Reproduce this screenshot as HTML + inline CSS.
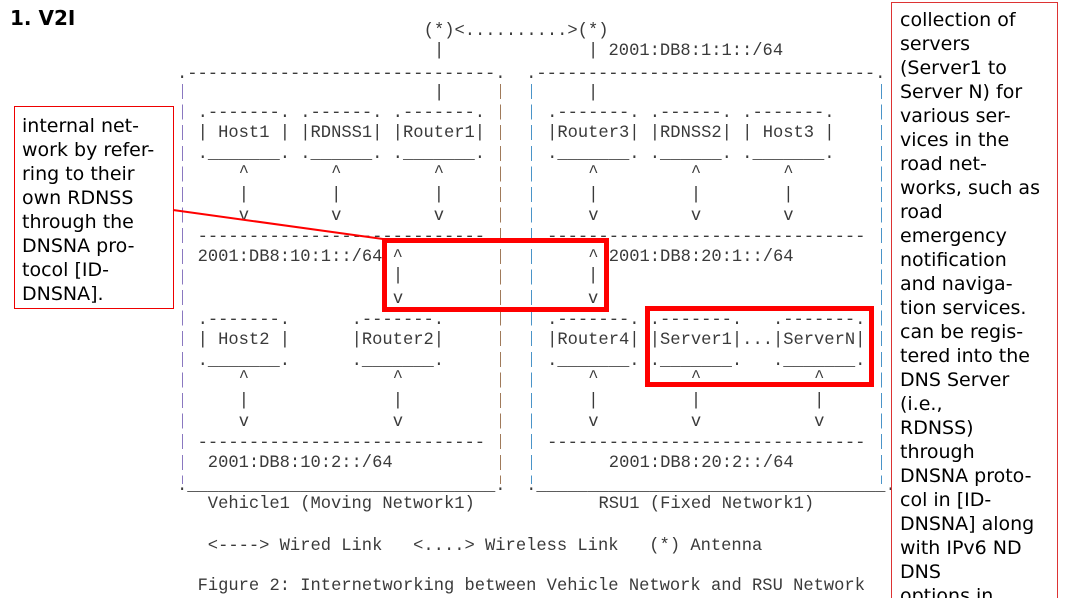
<!DOCTYPE html>
<html style="overflow:hidden"><head><meta charset="utf-8"><style>
html,body{margin:0;width:1071px;height:598px;overflow:hidden}
body{background:#fff;position:relative}
.t{position:absolute;font-family:"Liberation Mono",monospace;font-size:17.13px;line-height:20px;white-space:pre;color:#3a3a3a}
.e{position:absolute;width:1.3px;top:84px;height:400px;background:repeating-linear-gradient(to bottom,var(--c) 0 15px,transparent 15px 20.6px)}
.s{position:absolute;font-family:"DejaVu Sans",sans-serif;font-size:19px;line-height:24px;color:#000;white-space:pre}
.r{position:absolute;border:5px solid #f00;box-sizing:border-box}
</style></head><body>
<div style="position:absolute;left:10px;top:6px;font:bold 20px 'DejaVu Sans',sans-serif">1. V2I</div>

<div class="e" style="left:182px;--c:#8a78c0"></div>
<div class="e" style="left:500px;--c:#a07a5a"></div>
<div class="e" style="left:531px;--c:#4a94c8"></div>
<div class="e" style="left:881px;--c:#4a94c8"></div>

<div class="t" style="left:423.7px;top:22px">(*)&lt;..........&gt;(*)</div>
<div class="t" style="left:434px;top:42px">|              | 2001:DB8:1:1::/64</div>
<div class="t" style="left:177px;top:65px">.------------------------------.  .---------------------------------.</div>
<div class="t" style="left:434px;top:84px">|              |</div>

<div class="t" style="left:197.6px;top:104px">.-------. .------. .-------.</div>
<div class="t" style="left:197.6px;top:124px">| Host1 | |RDNSS1| |Router1|</div>
<div class="t" style="left:197.6px;top:145px">._______. .______. ._______.</div>
<div class="t" style="left:547.1px;top:104px">.-------. .------. .-------.</div>
<div class="t" style="left:547.1px;top:124px">|Router3| |RDNSS2| | Host3 |</div>
<div class="t" style="left:547.1px;top:145px">._______. .______. ._______.</div>

<div class="t" style="left:238.7px;top:164px">^        ^         ^</div>
<div class="t" style="left:238.7px;top:186px">|        |         |</div>
<div class="t" style="left:238.7px;top:207px">v        v         v</div>
<div class="t" style="left:588.2px;top:164px">^         ^        ^</div>
<div class="t" style="left:588.2px;top:186px">|         |        |</div>
<div class="t" style="left:588.2px;top:207px">v         v        v</div>

<div class="t" style="left:197.6px;top:228px">----------------------------</div>
<div class="t" style="left:547.1px;top:228px">-------------------------------</div>
<div class="t" style="left:197.6px;top:248px">2001:DB8:10:1::/64 ^</div>
<div class="t" style="left:588.2px;top:248px">^ 2001:DB8:20:1::/64</div>
<div class="t" style="left:392.9px;top:267px">|                  |</div>
<div class="t" style="left:392.9px;top:290px">v                  v</div>

<div class="t" style="left:197.6px;top:311px">.-------.      .-------.</div>
<div class="t" style="left:197.6px;top:331px">| Host2 |      |Router2|</div>
<div class="t" style="left:197.6px;top:352px">._______.      ._______.</div>
<div class="t" style="left:547.1px;top:311px">.-------. .-------.   .-------.</div>
<div class="t" style="left:547.1px;top:331px">|Router4| |Server1|...|ServerN|</div>
<div class="t" style="left:547.1px;top:352px">._______. ._______.   ._______.</div>

<div class="t" style="left:238.7px;top:369px">^              ^</div>
<div class="t" style="left:238.7px;top:392px">|              |</div>
<div class="t" style="left:238.7px;top:413px">v              v</div>
<div class="t" style="left:588.2px;top:369px">^         ^           ^</div>
<div class="t" style="left:588.2px;top:392px">|         |           |</div>
<div class="t" style="left:588.2px;top:413px">v         v           v</div>

<div class="t" style="left:197.6px;top:434px">----------------------------</div>
<div class="t" style="left:547.1px;top:434px">-------------------------------</div>
<div class="t" style="left:207.8px;top:454px">2001:DB8:10:2::/64</div>
<div class="t" style="left:608.8px;top:454px">2001:DB8:20:2::/64</div>
<div class="t" style="left:177px;top:477px">.______________________________.  .__________________________________.</div>
<div class="t" style="left:207.8px;top:495px">Vehicle1 (Moving Network1)</div>
<div class="t" style="left:598.5px;top:495px">RSU1 (Fixed Network1)</div>
<div class="t" style="left:207.8px;top:537px">&lt;----&gt; Wired Link   &lt;....&gt; Wireless Link   (*) Antenna</div>
<div class="t" style="left:197.6px;top:577px">Figure 2: Internetworking between Vehicle Network and RSU Network</div>

<div class="r" style="left:382px;top:238px;width:227px;height:74px"></div>
<div class="r" style="left:645px;top:306px;width:229px;height:81px"></div>
<svg style="position:absolute;left:0;top:0" width="1071" height="598"><line x1="173" y1="210" x2="383" y2="239" stroke="#f00" stroke-width="2"/></svg>

<div style="position:absolute;left:14px;top:106px;width:160px;height:203px;border:1px solid #e00;box-sizing:border-box"></div>
<div class="s" style="left:22px;top:114px">internal net-
work by refer-
ring to their
own RDNSS
through the
DNSNA pro-
tocol [ID-
DNSNA].</div>

<div style="position:absolute;left:891px;top:2px;width:167px;height:600px;border:1px solid #d33;border-bottom:none;box-sizing:border-box"></div>
<div class="s" style="left:900px;top:8px;height:590px;overflow:hidden">collection of
servers
(Server1 to
Server N) for
various ser-
vices in the
road net-
works, such as
road
emergency
notification
and naviga-
tion services.
can be regis-
tered into the
DNS Server
(i.e.,
RDNSS)
through
DNSNA proto-
col in [ID-
DNSNA] along
with IPv6 ND
DNS
options in</div>
</body></html>
